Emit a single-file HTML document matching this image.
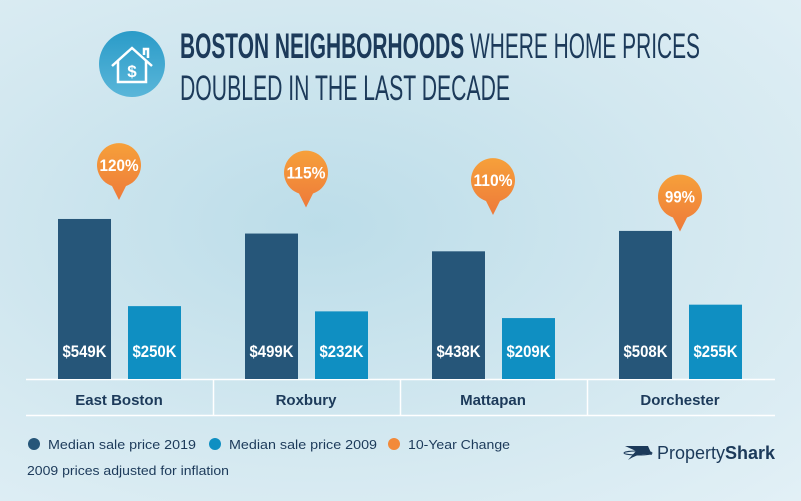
<!DOCTYPE html>
<html><head><meta charset="utf-8"><style>
body{margin:0;width:801px;height:501px;overflow:hidden;font-family:"Liberation Sans",sans-serif;}
#bg{position:absolute;left:0;top:0;width:801px;height:501px;background:radial-gradient(ellipse at 40% 45%,#bcdde9 0%,#d3e8f0 55%,#e2f0f6 100%);}
</style></head><body>
<div id="bg"></div>
<svg id="c" width="801" height="501" style="position:absolute;left:0;top:0">
<defs>
<linearGradient id="og" x1="0" y1="0" x2="0" y2="1"><stop offset="0" stop-color="#f6a03a"/><stop offset="1" stop-color="#ee7a3a"/></linearGradient>
<linearGradient id="bg2" x1="0" y1="0" x2="0" y2="1"><stop offset="0" stop-color="#2a9bc8"/><stop offset="1" stop-color="#5ab6d9"/></linearGradient>
</defs>
<g>
<circle cx="132" cy="64" r="33" fill="url(#bg2)"/>
<path d="M112 66 L132 48 L152 66 M118 61 V82 H146 V61 M144 55 V49 H148 V58" stroke="#fff" stroke-width="2.5" fill="none"/>
<text x="132" y="77" fill="#fff" font-size="17" font-weight="bold" text-anchor="middle">$</text>
</g>
<text x="180" y="58" font-size="35" fill="#1c3a5a" textLength="520" lengthAdjust="spacingAndGlyphs"><tspan font-weight="bold">BOSTON NEIGHBORHOODS</tspan> WHERE HOME PRICES</text>
<text x="180" y="100" font-size="35" fill="#1c3a5a" textLength="330" lengthAdjust="spacingAndGlyphs">DOUBLED IN THE LAST DECADE</text>
<g id="plot"></g>
<g>
<circle cx="34" cy="444" r="6" fill="#265679"/><text x="48" y="449" font-size="13" fill="#1c3a5a" textLength="148" lengthAdjust="spacingAndGlyphs">Median sale price 2019</text>
<circle cx="215" cy="444" r="6" fill="#0f8fc2"/><text x="229" y="449" font-size="13" fill="#1c3a5a" textLength="148" lengthAdjust="spacingAndGlyphs">Median sale price 2009</text>
<circle cx="394" cy="444" r="6" fill="#f28a3a"/><text x="408" y="449" font-size="13" fill="#1c3a5a" textLength="102" lengthAdjust="spacingAndGlyphs">10-Year Change</text>
<text x="27" y="475" font-size="13" fill="#1c3a5a" textLength="202" lengthAdjust="spacingAndGlyphs">2009 prices adjusted for inflation</text>
</g>
<g>
<path d="M625 446 L648 446 L652 455 Q640 452 628 460 L636 451 Z" fill="#1c3a5a"/>
<ellipse cx="638" cy="453" rx="14" ry="2" fill="none" stroke="#1c3a5a" stroke-width="1"/>
<text x="657" y="459" font-size="18" fill="#1c3a5a" textLength="118" lengthAdjust="spacingAndGlyphs">Property<tspan font-weight="bold">Shark</tspan></text>
</g>
</svg>
<script>
const categories=["East Boston","Roxbury","Mattapan","Dorchester"];
const price2019=[549,499,438,508];
const price2009=[250,232,209,255];
const change=[120,115,110,99];
const NS="http://www.w3.org/2000/svg";
const plot=document.getElementById('plot');
const base=379, k=0.2915;
function y(v){return base-v*k;}
function cy2(c){return 200+(120-c)*1.5;}
function gx(i){return 26+i*187;}
function mk(t,a,txt){const e=document.createElementNS(NS,t);for(const n in a)e.setAttribute(n,a[n]);if(txt!==undefined)e.textContent=txt;plot.appendChild(e);return e;}
let l=mk('line',{x1:26,y1:379.5,x2:775,y2:379.5,stroke:'#fff','stroke-width':1.5});


l=mk('line',{x1:26,y1:415.5,x2:775,y2:415.5,stroke:'#fff','stroke-width':1.5});


categories.forEach((c,i)=>{
 const x0=gx(i);
 if(i>0){const s=mk('line',{x1:x0+0.5,y1:379,x2:x0+0.5,y2:415,stroke:'#fff','stroke-width':1.5});
  
  }
 const d=mk('rect',{x:x0+32,y:y(price2019[i]),width:53,height:price2019[i]*k,fill:'#265679'});
 
 
 const b=mk('rect',{x:x0+102,y:y(price2009[i]),width:53,height:price2009[i]*k,fill:'#0f8fc2'});
 
 
 let t=mk('text',{x:x0+58.5,y:357,'font-size':17,'font-weight':'bold',fill:'#fff','text-anchor':'middle',textLength:44,lengthAdjust:'spacingAndGlyphs'},'$'+price2019[i]+'K');
 
 
 t=mk('text',{x:x0+128.5,y:357,'font-size':17,'font-weight':'bold',fill:'#fff','text-anchor':'middle',textLength:44,lengthAdjust:'spacingAndGlyphs'},'$'+price2009[i]+'K');
 
 
 t=mk('text',{x:x0+93,y:405,'font-size':15,'font-weight':'bold',fill:'#1c3a5a','text-anchor':'middle'},c);
 
 
 const cx=x0+93, tip=cy2(change[i]), cy=tip-35;
 const p=mk('path',{d:`M${cx-7} ${cy+21} A22 22 0 1 1 ${cx+7} ${cy+21} L${cx} ${tip} Z`,fill:'url(#og)'});
 
 
 t=mk('text',{x:cx,y:cy+6,'font-size':17,'font-weight':'bold',fill:'#fff','text-anchor':'middle',textLength:String(change[i]).length*9+12,lengthAdjust:'spacingAndGlyphs'},change[i]+'%');
 
 
});
</script>
</body></html>
